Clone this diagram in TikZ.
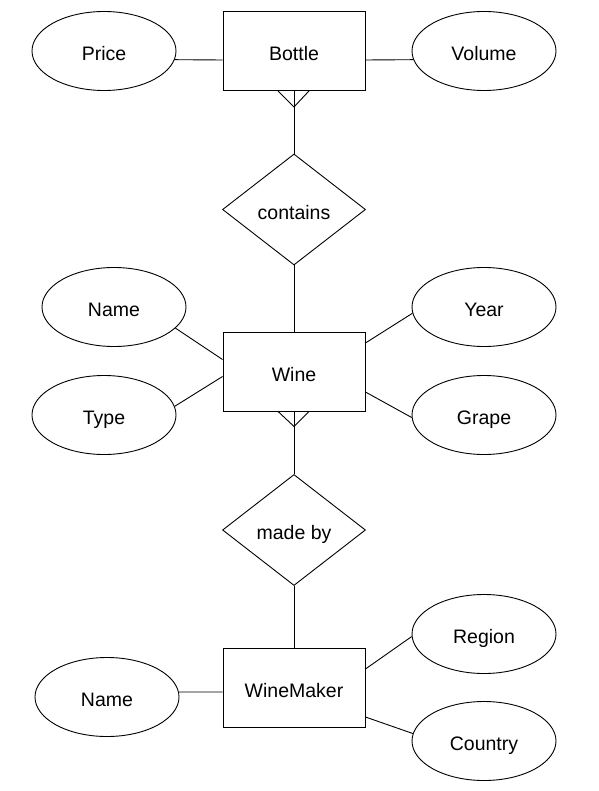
\documentclass[tikz,border=0pt]{standalone}
\usepackage{fontspec}
\setmainfont{Liberation Sans}
\usetikzlibrary{shapes.geometric}
\begin{document}
\begin{tikzpicture}[x=1pt,y=-1pt,line width=0.9pt,
  lbl/.style={font=\fontsize{19.5}{23}\selectfont,text height=19.5pt,text depth=0pt},
  entity/.style={draw,rectangle,minimum width=142pt,minimum height=79pt,inner sep=0pt,lbl},
  attr/.style={draw,ellipse,minimum width=144pt,minimum height=79pt,inner sep=0pt,lbl},
  rel/.style={draw,diamond,minimum width=143pt,minimum height=111pt,inner sep=0pt,lbl}]
\useasboundingbox (0,0) rectangle (598,791);
\fill[white] (0,0) rectangle (598,791);
% entities
\node[entity] (bottle) at (294,51) {Bottle};
\node[entity] (wine) at (294,371.5) {Wine};
\node[entity] (maker) at (294,687.5) {WineMaker};
% relationships
\node[rel] (contains) at (294,209.5) {contains};
\node[rel] (madeby) at (294,530) {made by};
% attributes
\node[attr] (price) at (104,51) {Price};
\node[attr] (volume) at (484,51) {Volume};
\node[attr] (wname) at (114,307) {Name};
\node[attr] (type) at (104,415) {Type};
\node[attr] (year) at (484,307) {Year};
\node[attr] (grape) at (484,415) {Grape};
\node[attr] (mname) at (107,697) {Name};
\node[attr] (region) at (484,634) {Region};
\node[attr] (country) at (484,741) {Country};
% connectors
\draw (price.-7) -- ([yshift=-9pt]bottle.west);
\draw ([yshift=-9pt]bottle.east) -- (volume.187);
\draw (bottle.south) -- (contains.north);
\draw (contains.south) -- (wine.north);
\draw ([xshift=-16pt]bottle.south) -- ([yshift=-16pt]bottle.south) -- ([xshift=15pt]bottle.south);
\draw (wname.-19) -- ([yshift=12pt]wine.west);
\draw (type.7) -- ([yshift=-5pt]wine.west);
\draw (year.185) -- ([yshift=28.5pt]wine.east);
\draw (grape.182) -- ([yshift=-20.5pt]wine.east);
\draw (wine.south) -- (madeby.north);
\draw ([xshift=-16pt]wine.south) -- ([yshift=-15pt]wine.south) -- ([xshift=15pt]wine.south);
\draw (madeby.south) -- (maker.north);
\draw (mname.4) -- ([yshift=-4.5pt]maker.west);
\draw (region.182) -- ([yshift=18.5pt]maker.east);
\draw (country.174) -- ([yshift=-29.5pt]maker.east);
\end{tikzpicture}
\end{document}
